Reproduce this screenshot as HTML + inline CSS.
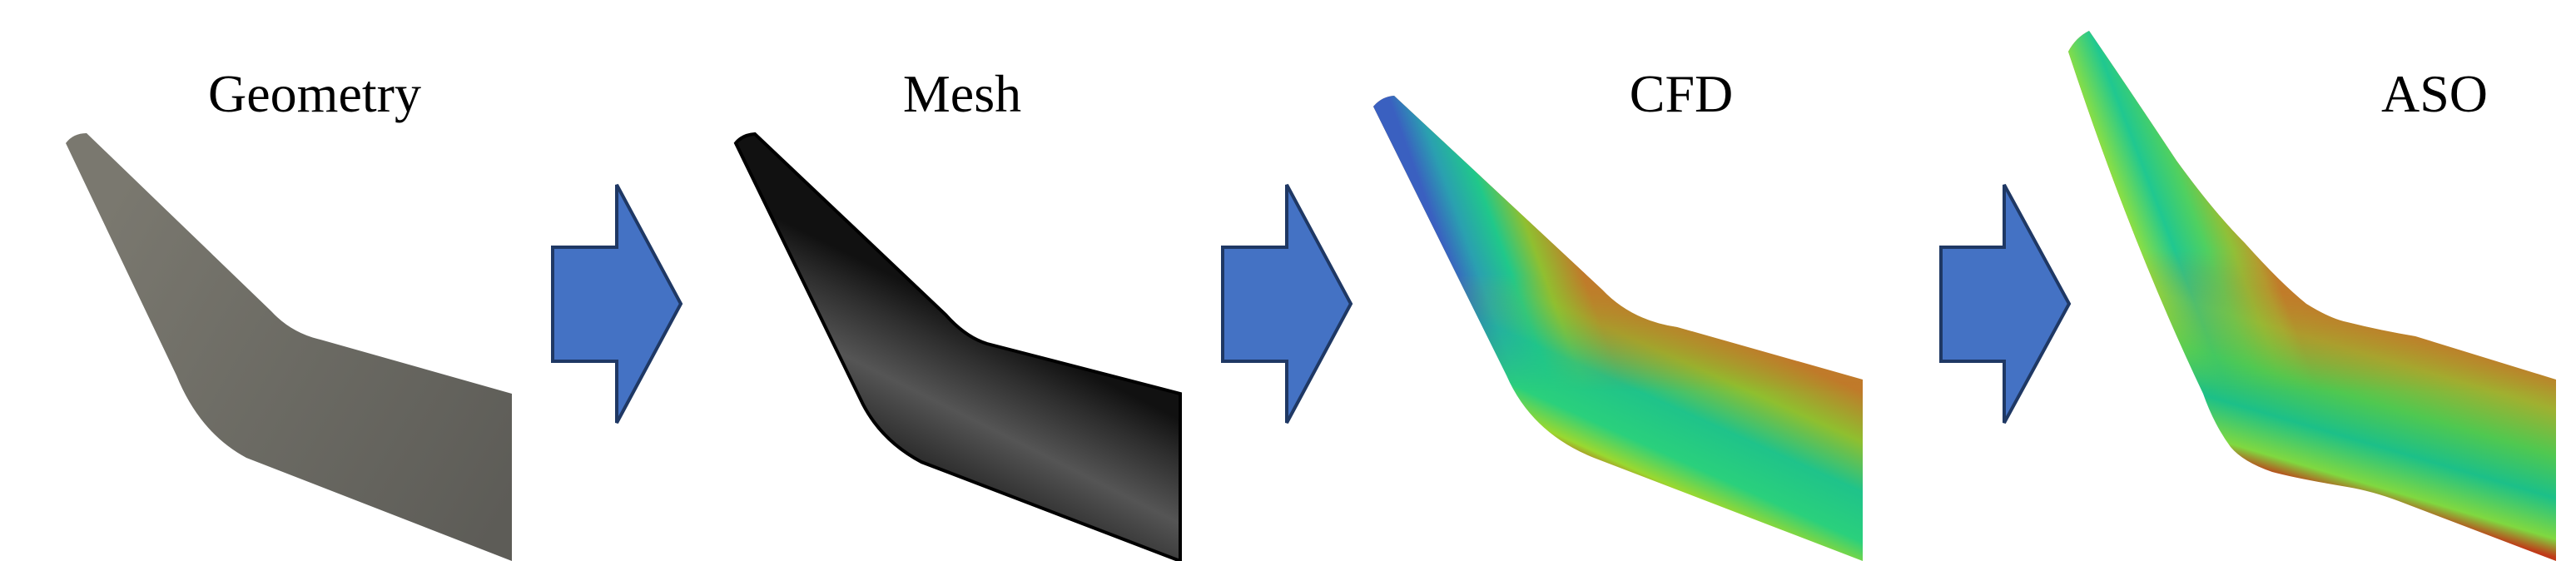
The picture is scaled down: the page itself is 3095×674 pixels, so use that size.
<!DOCTYPE html>
<html><head><meta charset="utf-8"><style>
html,body{margin:0;padding:0;background:#fff;}
svg{display:block;}
text{font-family:"Liberation Serif",serif;font-size:64px;fill:#000;}
</style></head><body>
<svg width="3095" height="674" viewBox="0 0 3095 674">
<defs>
<linearGradient id="gGeo" gradientUnits="userSpaceOnUse" x1="100" y1="300" x2="615" y2="600">
<stop offset="0" stop-color="#7a786f"/><stop offset="0.5" stop-color="#6b6a63"/><stop offset="1" stop-color="#5d5c57"/></linearGradient>
<linearGradient id="gMesh" gradientUnits="userSpaceOnUse" x1="1250" y1="420" x2="1150" y2="620">
<stop offset="0" stop-color="#111"/><stop offset="0.2" stop-color="#2e2e2e"/><stop offset="0.5" stop-color="#555"/><stop offset="0.85" stop-color="#2a2a2a"/><stop offset="1" stop-color="#000"/></linearGradient>
<linearGradient id="gCfd" gradientUnits="userSpaceOnUse" x1="2080" y1="400" x2="1990" y2="600">
<stop offset="0" stop-color="#c07a2a"/><stop offset="0.25" stop-color="#8fbf2f"/><stop offset="0.5" stop-color="#1fc38a"/><stop offset="0.75" stop-color="#2ad07c"/><stop offset="0.9" stop-color="#9ad830"/><stop offset="1" stop-color="#c0401a"/></linearGradient>
<linearGradient id="gCfdTip" gradientUnits="userSpaceOnUse" x1="1735" y1="300" x2="1873" y2="250">
<stop offset="0" stop-color="#3a60c0"/><stop offset="0.2" stop-color="#2aa0b0"/><stop offset="0.45" stop-color="#20c88a"/><stop offset="0.7" stop-color="#90bf30"/><stop offset="1" stop-color="#c07a2a"/></linearGradient>
<linearGradient id="gAso" gradientUnits="userSpaceOnUse" x1="2960" y1="415" x2="2900" y2="620">
<stop offset="0" stop-color="#c07c2a"/><stop offset="0.2" stop-color="#a0b030"/><stop offset="0.45" stop-color="#50c850"/><stop offset="0.68" stop-color="#1cc088"/><stop offset="0.9" stop-color="#80d840"/><stop offset="1" stop-color="#c03a18"/></linearGradient>
<linearGradient id="gAsoTip" gradientUnits="userSpaceOnUse" x1="2553" y1="267" x2="2690" y2="215">
<stop offset="0" stop-color="#c83a18"/><stop offset="0.025" stop-color="#90e040"/><stop offset="0.3" stop-color="#20c890"/><stop offset="0.55" stop-color="#50d060"/><stop offset="0.75" stop-color="#90c038"/><stop offset="0.9" stop-color="#b0a030"/><stop offset="1" stop-color="#c07c2a"/></linearGradient>
<linearGradient id="fadeCfd" gradientUnits="userSpaceOnUse" x1="0" y1="330" x2="0" y2="470">
<stop offset="0" stop-color="#fff"/><stop offset="1" stop-color="#000"/></linearGradient>
<linearGradient id="fadeAso" gradientUnits="userSpaceOnUse" x1="0" y1="300" x2="0" y2="470">
<stop offset="0" stop-color="#fff"/><stop offset="1" stop-color="#000"/></linearGradient>
<mask id="mCfd"><rect x="1600" y="0" width="700" height="674" fill="url(#fadeCfd)"/></mask>
<mask id="mAso"><rect x="2450" y="0" width="645" height="674" fill="url(#fadeAso)"/></mask>
</defs>

<text x="378" y="134" text-anchor="middle">Geometry</text>
<text x="1156" y="134" text-anchor="middle">Mesh</text>
<text x="2020" y="134" text-anchor="middle">CFD</text>
<text x="2925" y="134" text-anchor="middle">ASO</text>

<path fill="url(#gGeo)"
d="M79,172 Q88,160 104,160 L326,374 Q350,400 385,408 L615,473 L615,674 L296,550 Q240,520 212,451 Z"/>

<path fill="#4472c4" stroke="#1f3864" stroke-width="4"
d="M664,297 L741,297 L741,222 L818,365 L741,508 L741,434 L664,434 Z"/>

<path fill="url(#gMesh)" stroke="#000" stroke-width="4"
d="M884,172 Q892,162 907,161 L1136,378 Q1160,405 1186,413 L1418,473 L1418,674 L1107,555 Q1060,530 1037,486 Z"/>

<path fill="#4472c4" stroke="#1f3864" stroke-width="4"
d="M1469,297 L1546,297 L1546,222 L1623,365 L1546,508 L1546,434 L1469,434 Z"/>

<g>
<path fill="url(#gCfd)" d="M1650,128 Q1660,116 1675,115 L1925,348 Q1960,385 2015,393 L2238,456 L2238,674 L1915,550 Q1840,520 1810,451 Z"/>
<path fill="url(#gCfdTip)" mask="url(#mCfd)" d="M1650,128 Q1660,116 1675,115 L1925,348 Q1960,385 2015,393 L2238,456 L2238,674 L1915,550 Q1840,520 1810,451 Z"/>
</g>

<path fill="#4472c4" stroke="#1f3864" stroke-width="4"
d="M2332,297 L2408,297 L2408,222 L2486,365 L2408,508 L2408,434 L2332,434 Z"/>

<g>
<path fill="url(#gAso)" d="M2485,62 Q2494,45 2510,37 Q2560,110 2615,193 Q2660,255 2697,292 Q2740,340 2771,365 Q2800,383 2820,387 Q2860,397 2902,404 L3071,456 L3071,674 L2882,602 Q2850,590 2820,585 Q2760,575 2730,567 Q2695,555 2680,537 Q2660,510 2647,473 Q2560,290 2485,62 Z"/>
<path fill="url(#gAsoTip)" mask="url(#mAso)" d="M2485,62 Q2494,45 2510,37 Q2560,110 2615,193 Q2660,255 2697,292 Q2740,340 2771,365 Q2800,383 2820,387 Q2860,397 2902,404 L3071,456 L3071,674 L2882,602 Q2850,590 2820,585 Q2760,575 2730,567 Q2695,555 2680,537 Q2660,510 2647,473 Q2560,290 2485,62 Z"/>
</g>
</svg>
</body></html>
